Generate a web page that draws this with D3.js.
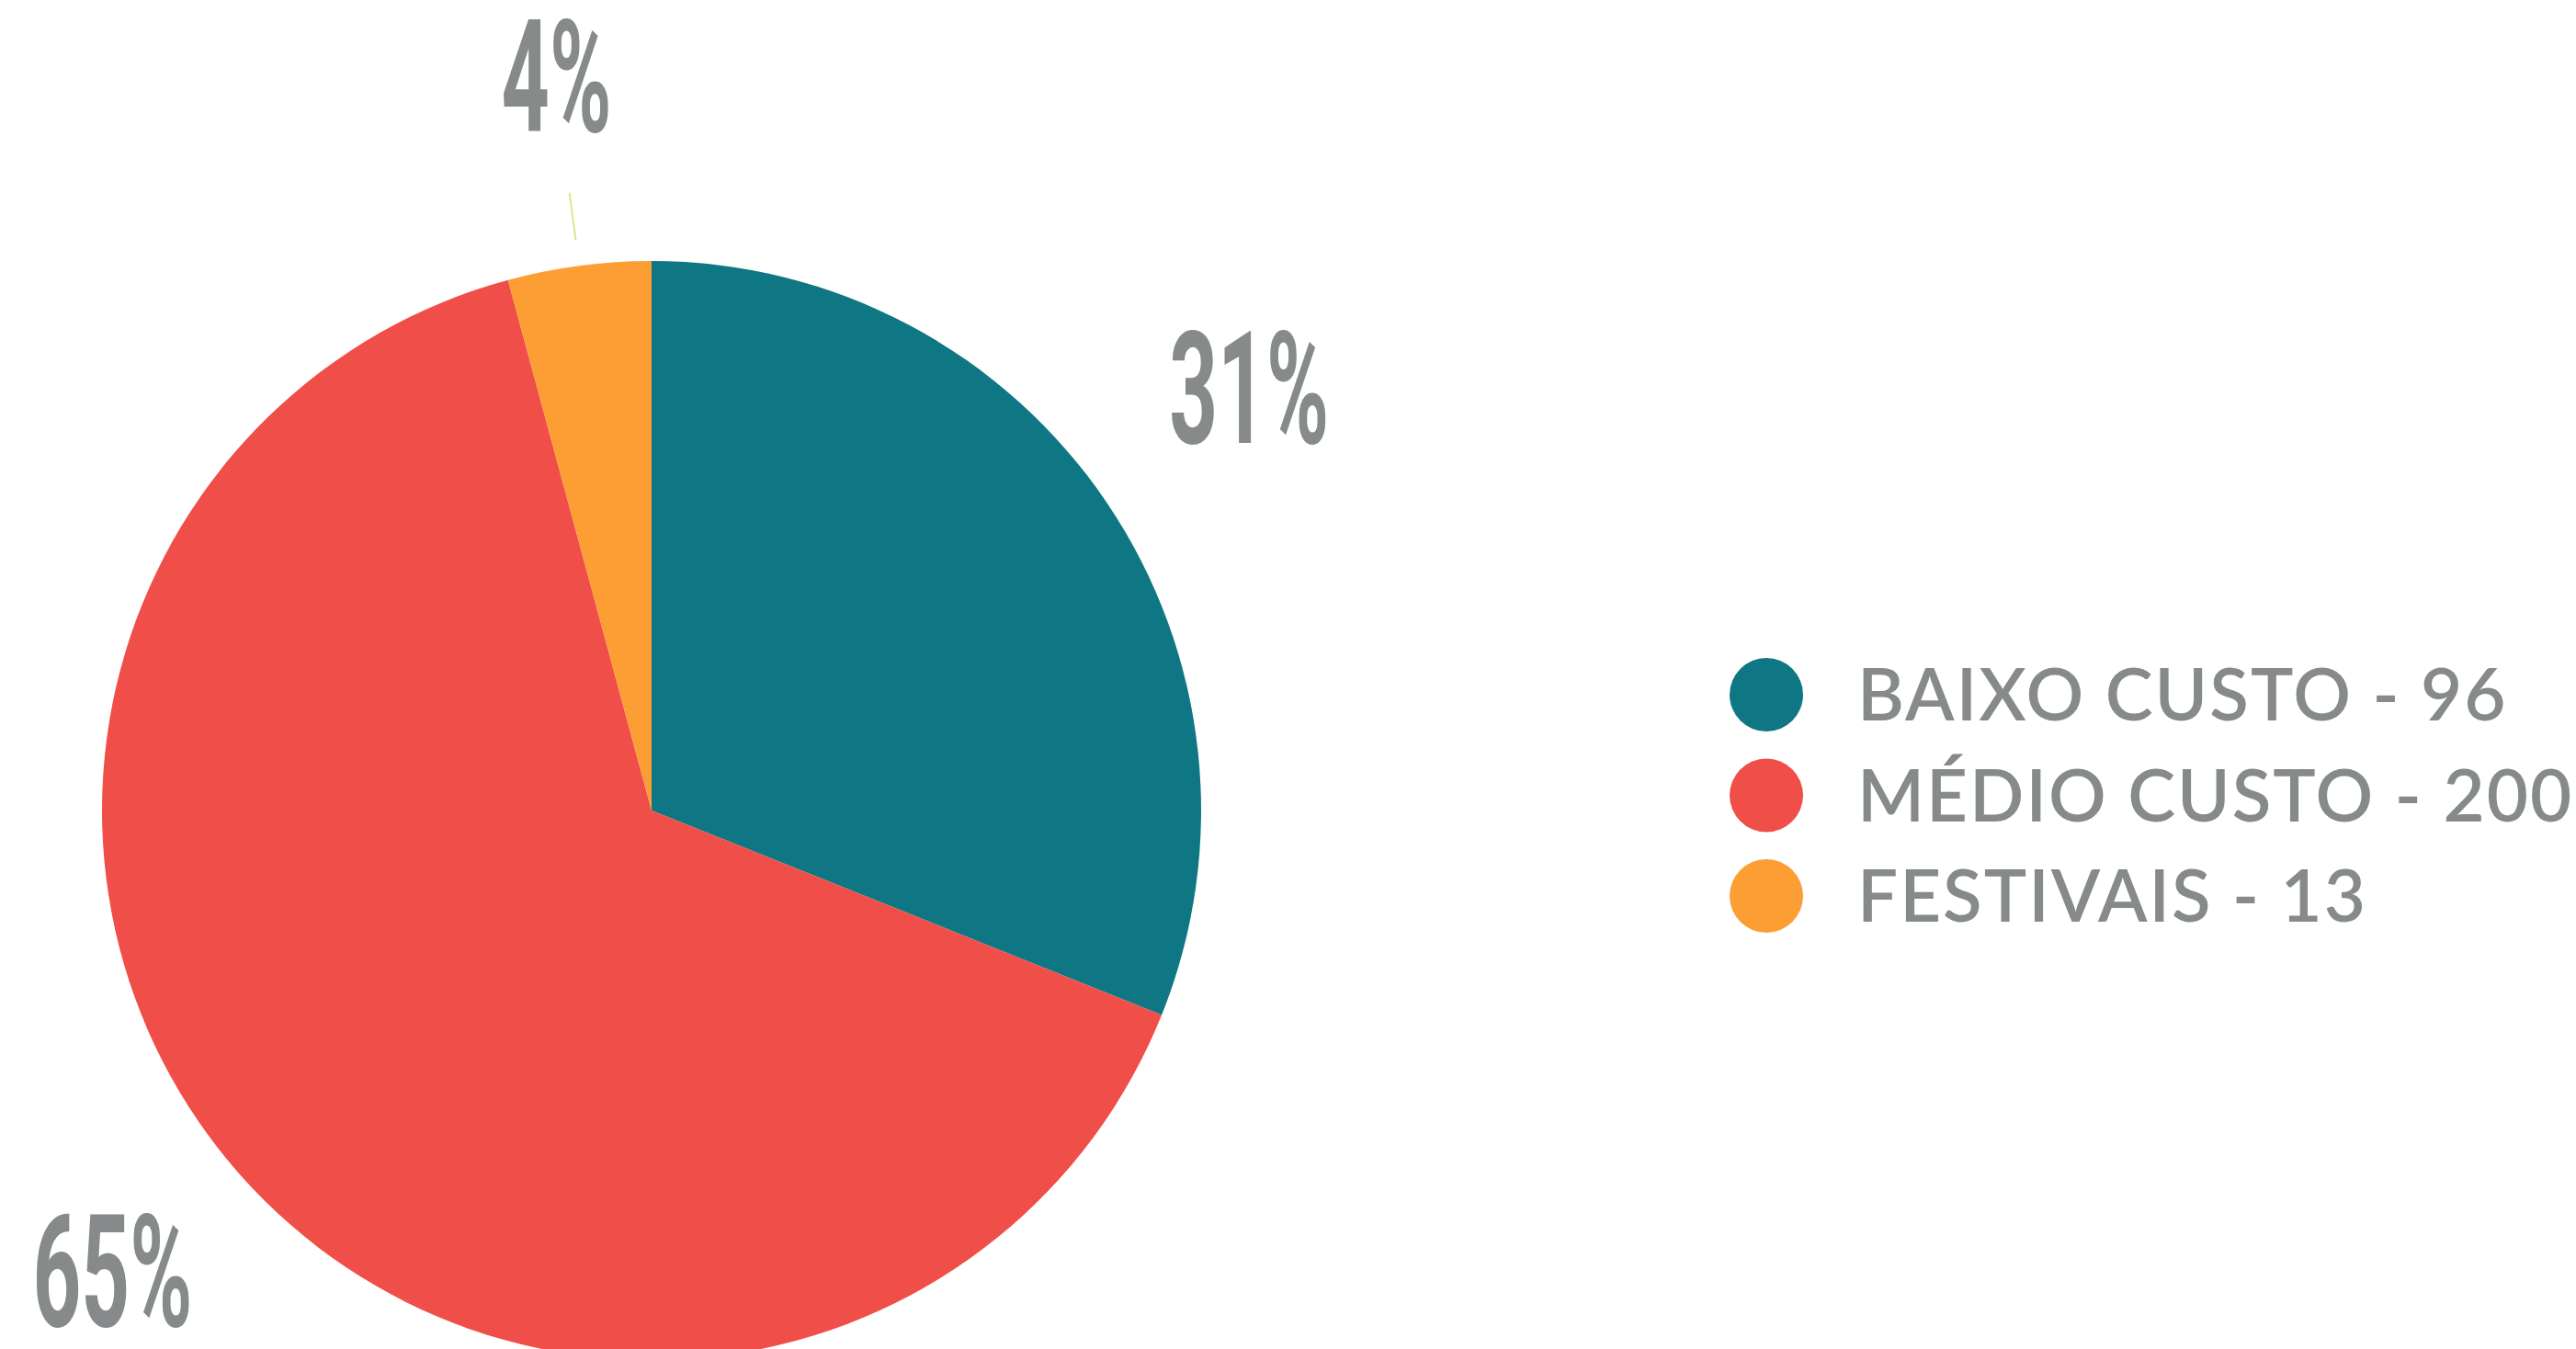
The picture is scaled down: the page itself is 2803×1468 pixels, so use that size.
<!DOCTYPE html>
<html>
<head>
<meta charset="utf-8">
<script src="https://cdn.jsdelivr.net/npm/d3@7"></script>
<style>
  html, body { margin: 0; padding: 0; background: #ffffff; overflow: hidden; }
</style>
</head>
<body>
<svg id="chart" width="2803" height="1468"></svg>
<script>
// ---- data ----
const categories = ["BAIXO CUSTO", "MÉDIO CUSTO", "FESTIVAIS"];
const values = [96, 200, 13];
const colors = ["#0e7783", "#ef4f48", "#fd9e35"];

// ---- layout ----
const W = 2803, H = 1468;
const cx = 709, cy = 882, R = 598;
const labelR = 785;
const labelShift = -21;
const leaderInner = 626, leaderOuter = 678;
const grey = "#868a8a";

const svg = d3.select("#chart");
const total = d3.sum(values);

const pie = d3.pie().sort(null).value(d => d)(values);
const arc = d3.arc().innerRadius(0).outerRadius(R);

const g = svg.append("g").attr("transform", `translate(${cx},${cy})`);

g.selectAll("path.slice")
  .data(pie)
  .join("path")
  .attr("class", "slice")
  .attr("d", arc)
  .attr("fill", (d, i) => colors[i]);

// leader line for the small slice
const smallIdx = values.indexOf(d3.min(values));
const sd = pie[smallIdx];
const midA = (sd.startAngle + sd.endAngle) / 2;
g.append("line")
  .attr("x1", leaderInner * Math.sin(midA))
  .attr("y1", -leaderInner * Math.cos(midA))
  .attr("x2", leaderOuter * Math.sin(midA))
  .attr("y2", -leaderOuter * Math.cos(midA))
  .attr("stroke", "#d5e98c")
  .attr("stroke-width", 2);

// percentage labels
const labelArc = d3.arc().innerRadius(labelR).outerRadius(labelR);
const capH = 121;
g.selectAll("text.pct")
  .data(pie)
  .join("text")
  .attr("class", "pct")
  .each(function(d) {
    const txt = Math.round(d.value / total * 100) + "%";
    const [x, y] = labelArc.centroid(d);
    const digits = txt.length - 1;
    d3.select(this)
      .attr("x", x)
      .attr("y", y + labelShift + capH / 2)
      .attr("text-anchor", "middle")
      .attr("font-family", "Roboto, 'Liberation Sans', sans-serif")
      .attr("font-weight", 700)
      .attr("font-size", 170)
      .attr("fill", grey)
      .attr("textLength", digits * 54 + 66)
      .attr("lengthAdjust", "spacingAndGlyphs")
      .text(txt);
  });

// legend
const legend = svg.append("g").attr("transform", "translate(1922,756)");
const rowH = 109.5;
const rows = legend.selectAll("g.row")
  .data(categories)
  .join("g")
  .attr("class", "row")
  .attr("transform", (d, i) => `translate(0,${i * rowH})`);

rows.append("circle")
  .attr("r", 40)
  .attr("fill", (d, i) => colors[i]);

rows.append("text")
  .attr("x", 99)
  .attr("y", 28)
  .attr("font-family", "Lato, 'Open Sans', sans-serif")
  .attr("font-weight", 600)
  .attr("font-size", 78)
  .attr("letter-spacing", "0.026em")
  .attr("fill", grey)
  .text((d, i) => `${d} - ${values[i]}`);
</script>
</body>
</html>
